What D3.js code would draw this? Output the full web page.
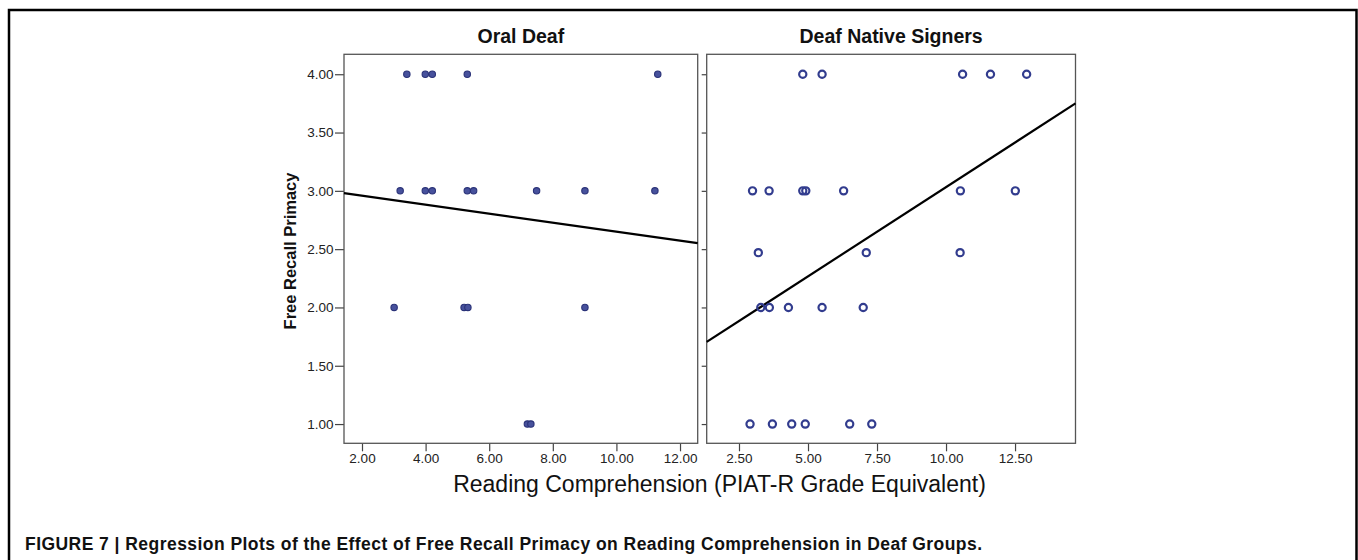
<!DOCTYPE html>
<html>
<head>
<meta charset="utf-8">
<script src="https://cdn.jsdelivr.net/npm/d3@7"></script>
<style>
  body { margin: 0; background: #fff; }
  svg { display: block; font-family: "Liberation Sans", Arial, Helvetica, sans-serif; }
</style>
</head>
<body>
<div id="chart"></div>
<script>
// y axis (shared)
var yTicks = [1.00, 1.50, 2.00, 2.50, 3.00, 3.50, 4.00];

// Oral Deaf panel
var oralTicks = [2, 4, 6, 8, 10, 12];
var oralX = [3.41, 3.99, 4.21, 5.31, 11.30,
             3.20, 3.99, 4.21, 5.31, 5.51, 7.49, 9.01, 11.21,
             3.01, 5.21, 5.33, 9.01,
             7.20, 7.31];
var oralY = [4, 4, 4, 4, 4,
             3, 3, 3, 3, 3, 3, 3, 3,
             2, 2, 2, 2,
             1, 1];

// Deaf Native Signers panel
var signTicks = [2.5, 5, 7.5, 10, 12.5];
var signX = [4.81, 5.51, 10.60, 11.61, 12.92,
             2.99, 3.59, 4.81, 4.92, 6.29, 10.52, 12.51,
             3.20, 7.11, 10.51,
             3.29, 3.60, 4.29, 5.51, 7.00,
             2.90, 3.71, 4.41, 4.90, 6.51, 7.31];
var signY = [4, 4, 4, 4, 4,
             3, 3, 3, 3, 3, 3, 3,
             2.47, 2.47, 2.47,
             2, 2, 2, 2, 2,
             1, 1, 1, 1, 1, 1];

// regression lines (intercept, slope) for each panel
var fitIntercept = [3.035, 1.501];
var fitSlope = [-0.0385, 0.1531];

var svg = d3.select("#chart").append("svg")
  .attr("width", 1358)
  .attr("height", 560);

// outer figure frame (open at the bottom)
svg.append("path")
  .attr("d", "M9,562V10H1356.5V562")
  .attr("fill", "none")
  .attr("stroke", "#000")
  .attr("stroke-width", 2.5);

var plotTop = 54.3, plotBottom = 443.3;
var y = d3.scaleLinear().domain([0.835, 4.171]).range([plotBottom, plotTop]);

var panels = [
  { title: "Oral Deaf", xs: oralX, ys: oralY, ticks: oralTicks,
    x: d3.scaleLinear().domain([1.434, 12.556]).range([344, 697.7]), filled: true, labels: true },
  { title: "Deaf Native Signers", xs: signX, ys: signY, ticks: signTicks,
    x: d3.scaleLinear().domain([1.33, 14.69]).range([706.7, 1075.5]), filled: false, labels: false }
];

panels.forEach(function(p, i) {
  var x = p.x;
  var g = svg.append("g");
  var x0 = x.domain()[0], x1 = x.domain()[1];

  // y axis
  var ya = g.append("g")
    .attr("transform", "translate(" + x.range()[0] + ",0)")
    .call(d3.axisLeft(y).tickValues(yTicks)
      .tickSize(p.labels ? 9 : 5).tickPadding(1.5)
      .tickFormat(p.labels ? d3.format(".2f") : ""));

  // x axis
  var xa = g.append("g")
    .attr("transform", "translate(0," + plotBottom + ")")
    .call(d3.axisBottom(x).tickValues(p.ticks).tickSize(8).tickPadding(2.5).tickFormat(d3.format(".2f")));

  [ya, xa].forEach(function(a) {
    a.select(".domain").remove();
    a.selectAll(".tick line").attr("stroke", "#444").attr("stroke-width", 1.2);
    a.selectAll(".tick text").attr("fill", "#222").style("font-size", "13.5px");
  });

  // panel frame
  g.append("rect")
    .attr("x", x.range()[0]).attr("y", plotTop)
    .attr("width", x.range()[1] - x.range()[0])
    .attr("height", plotBottom - plotTop)
    .attr("fill", "none")
    .attr("stroke", "#555")
    .attr("stroke-width", 1.3);

  // regression line
  g.append("line")
    .attr("x1", x(x0)).attr("y1", y(fitIntercept[i] + fitSlope[i] * x0))
    .attr("x2", x(x1)).attr("y2", y(fitIntercept[i] + fitSlope[i] * x1))
    .attr("stroke", "#000")
    .attr("stroke-width", 2.2);

  // points
  g.selectAll("circle.pt")
    .data(p.xs)
    .enter()
    .append("circle")
    .attr("class", "pt")
    .attr("cx", function(d) { return x(d); })
    .attr("cy", function(d, j) { return y(p.ys[j]); })
    .attr("r", p.filled ? 3.2 : 3.6)
    .attr("fill", p.filled ? "#47519c" : "none")
    .attr("stroke", p.filled ? "#2a3278" : "#323c8e")
    .attr("stroke-width", p.filled ? 1.1 : 2.2);

  // panel title
  g.append("text")
    .attr("x", (x.range()[0] + x.range()[1]) / 2)
    .attr("y", 42.5)
    .attr("text-anchor", "middle")
    .style("font-size", "19.5px")
    .style("font-weight", "bold")
    .attr("fill", "#111")
    .text(p.title);
});

// y axis title
svg.append("text")
  .attr("transform", "translate(295.5,251) rotate(-90)")
  .attr("text-anchor", "middle")
  .style("font-size", "16.5px")
  .style("font-weight", "bold")
  .attr("fill", "#111")
  .text("Free Recall Primacy");

// x axis title
svg.append("text")
  .attr("x", 719.5)
  .attr("y", 492)
  .attr("text-anchor", "middle")
  .style("font-size", "23px")
  .attr("fill", "#111")
  .text("Reading Comprehension (PIAT-R Grade Equivalent)");

// caption
svg.append("text")
  .attr("x", 25)
  .attr("y", 549.5)
  .style("font-size", "17.5px")
  .style("letter-spacing", "0.45px")
  .style("font-weight", "bold")
  .attr("fill", "#111")
  .text("FIGURE 7 | Regression Plots of the Effect of Free Recall Primacy on Reading Comprehension in Deaf Groups.");
</script>
</body>
</html>
